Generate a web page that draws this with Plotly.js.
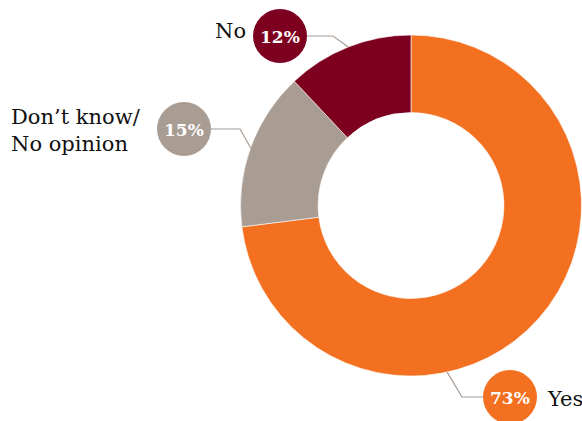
<!DOCTYPE html>
<html><head><meta charset="utf-8">
<script src="https://cdn.plot.ly/plotly-3.0.1.min.js"></script>
<style>html,body{margin:0;padding:0;background:#fff}</style>
</head><body><div id="chart" style="width:582px;height:421px"></div>
<script>
const categories = ["Yes", "Don\u2019t know/<br>No opinion", "No"];
const values = [73, 15, 12];
const pctLabels = ["73%", "15%", "12%"];
const colors = ["#F37021", "#A89C93", "#7E0021"];

const W = 582, H = 421;
const px = x => x / W, py = y => 1 - y / H;
// label layout (pixels): circle centre, leader elbow, text position
const labelCfg = [
  {cx: 510, cy: 397, elbow: [462, 397], anchorFrac: 0.466, tx: 545, ty: 399, xa: "left"},
  {cx: 184, cy: 129, elbow: [240, 129], anchorFrac: null, tx: 9, ty: 131, xa: "left"},
  {cx: 280, cy: 36, elbow: [333, 36], anchorFrac: null, tx: 248, ty: 31, xa: "right"}
];
const CX = 411, CY = 205.5, R = 170.5, r = 27;

const total = values.reduce((a, b) => a + b, 0);
let cum = 0;
const shapes = [], annotations = [];
values.forEach((v, i) => {
  const cfg = labelCfg[i];
  const frac = cfg.anchorFrac !== null ? cfg.anchorFrac : (cum + v / 2) / total;
  cum += v;
  const ang = frac * 2 * Math.PI;
  const ax = CX + R * Math.sin(ang), ay = CY - R * Math.cos(ang);
  const sx = cfg.cx + (cfg.elbow[0] > cfg.cx ? r : -r);
  shapes.push({type: "path", xref: "paper", yref: "paper",
    path: `M${px(sx)},${py(cfg.cy)} L${px(cfg.elbow[0])},${py(cfg.elbow[1])} L${px(ax)},${py(ay)}`,
    line: {color: "#A89C93", width: 1.2}});
  shapes.push({type: "circle", xref: "paper", yref: "paper",
    x0: px(cfg.cx - r), x1: px(cfg.cx + r), y0: py(cfg.cy + r), y1: py(cfg.cy - r),
    fillcolor: colors[i], line: {width: 0}});
  annotations.push({xref: "paper", yref: "paper", x: px(cfg.cx), y: py(cfg.cy + 1),
    text: "<b>" + pctLabels[i] + "</b>", showarrow: false,
    font: {family: "DejaVu Serif", size: 17, color: "#fff"}, xanchor: "center", yanchor: "middle"});
  annotations.push({xref: "paper", yref: "paper", x: px(cfg.tx), y: py(cfg.ty),
    text: categories[i], showarrow: false, align: "left",
    font: {family: "DejaVu Serif", size: 21, color: "#111"}, xanchor: cfg.xa, yanchor: "middle"});
});

const trace = {
  type: "pie", labels: categories, values: values, sort: false, direction: "clockwise", rotation: 0,
  hole: 0.545, marker: {colors: colors, line: {color: "#fff", width: 0.6}},
  textinfo: "none", hoverinfo: "label+percent", showlegend: false,
  domain: {x: [px(CX - R), px(CX + R)], y: [py(CY + R), py(CY - R)]}
};
Plotly.newPlot("chart", [trace], {
  width: W, height: H, margin: {l: 0, r: 0, t: 0, b: 0},
  paper_bgcolor: "#fff", shapes: shapes, annotations: annotations, showlegend: false
}, {displayModeBar: false, staticPlot: true});
</script></body></html>
